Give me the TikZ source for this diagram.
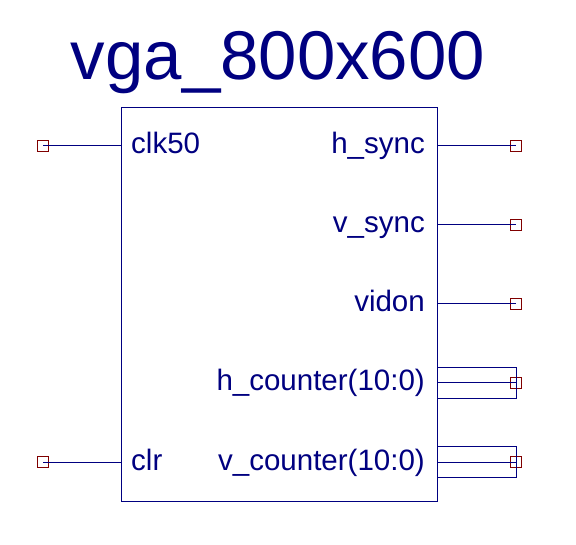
\documentclass[tikz,border=0pt]{standalone}
\usepackage{fontspec}
\setmainfont{Liberation Sans}
\definecolor{wire}{HTML}{000080}
\definecolor{pinred}{HTML}{800000}
\begin{document}
\begin{tikzpicture}[x=1pt,y=-1pt,
  wireline/.style={draw=wire,line width=1pt},
  pinbox/.style={draw=pinred,line width=1pt,fill=none,minimum size=11pt,inner sep=0pt,outer sep=0pt,rectangle},
  lbl/.style={text=wire,font=\fontsize{29.5}{30}\selectfont,inner sep=0pt},
  buswrap/.style={draw=wire,line width=1pt}]
\useasboundingbox (0,0) rectangle (576,545);
\node[text=wire,font=\fontsize{69}{69}\selectfont,inner sep=0pt,anchor=base] (title) at (278,80) {vga\_800x600};
\node[draw=wire,line width=1pt,minimum width=316pt,minimum height=394pt,inner sep=0pt,anchor=north west] (blk) at (121,107) {};
% left pins
\node[pinbox] (pclk) at (43,146) {};
\node[pinbox] (pclr) at (43,462) {};
\coordinate (bclk) at (121,146);
\coordinate (bclr) at (121,462);
\draw[wireline] (pclk.center) -- (bclk);
\draw[wireline] (pclr.center) -- (bclr);
\node[lbl,anchor=base west] (tclk) at (131,154) {clk50};
\node[lbl,anchor=base west] (tclr) at (131,470) {clr};
% right pins
\foreach \nm/\yy/\tx in {hs/146/h\_sync, vs/225/v\_sync, vi/304/vidon}{
  \coordinate (b\nm) at (437,\yy);
  \node[pinbox] (p\nm) at (515.5,\yy) {};
  \draw[wireline] (b\nm) -- (p\nm.center);
  \node[lbl,anchor=base east] (t\nm) at (425,\yy+8) {\tx};
}
% bus pins
\foreach \nm/\yy/\tx in {hc/383/h\_counter(10:0), vc/462/v\_counter(10:0)}{
  \coordinate (b\nm) at (437,\yy);
  \node[pinbox] (p\nm) at (516,\yy) {};
  \node[buswrap,minimum width=79pt,minimum height=31pt,inner sep=0pt,anchor=west] (r\nm) at (437,\yy) {};
  \draw[wireline] (b\nm) -- (p\nm.center);
  \node[lbl,anchor=base east] (t\nm) at (425,\yy+8) {\tx};
}
\end{tikzpicture}
\end{document}
